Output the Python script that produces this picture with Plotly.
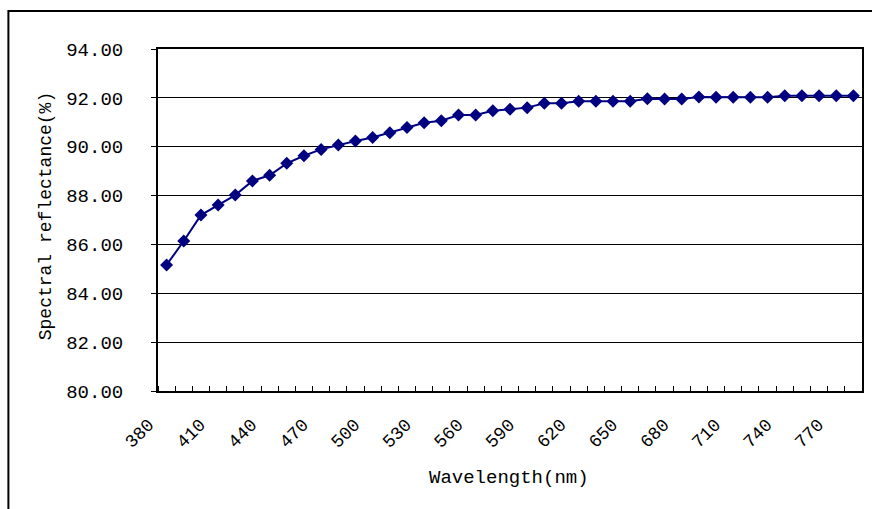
import plotly.graph_objects as go

# Spectral reflectance measured from 380 to 780 nm in 10 nm steps
wavelengths = list(range(380, 781, 10))
reflectance = [
    85.16, 86.14, 87.20, 87.61, 88.02, 88.60, 88.83, 89.32, 89.63, 89.89,
    90.07, 90.23, 90.38, 90.57, 90.79, 90.98, 91.06, 91.30, 91.30, 91.47,
    91.53, 91.60, 91.78, 91.78, 91.86, 91.86, 91.86, 91.86, 91.96, 91.95,
    91.95, 92.03, 92.02, 92.02, 92.02, 92.02, 92.09, 92.09, 92.09, 92.09,
    92.09,
]
# every third wavelength is labelled on the category axis
label_step = 3
y_ticks = [80, 82, 84, 86, 88, 90, 92, 94]

FONT = "Liberation Mono"
NAVY = "#000080"

idx = list(range(len(wavelengths)))
label_idx = idx[::label_step]
label_text = [str(wavelengths[i]) for i in label_idx]

fig = go.Figure()
fig.add_trace(go.Scatter(
    x=idx, y=reflectance, mode="lines+markers",
    line=dict(color=NAVY, width=2),
    marker=dict(symbol="diamond", size=10, color=NAVY),
    showlegend=False, hoverinfo="skip",
))

fig.update_layout(
    width=872, height=509,
    margin=dict(l=158, r=8, t=49, b=118),
    paper_bgcolor="white", plot_bgcolor="white",
    font=dict(family=FONT, color="black", size=18),
    xaxis=dict(
        range=[-0.5, len(wavelengths) - 0.5],
        tickmode="array", tickvals=label_idx, ticktext=label_text,
        tickangle=-45, ticks="", showgrid=False, zeroline=False,
        showline=True, linecolor="black", linewidth=2, mirror=True,
        tickfont=dict(family=FONT, size=18),
        ticklabelshift=-18, ticklabelstandoff=14,
        minor=dict(tickmode="linear", tick0=-0.5, dtick=1,
                   ticks="inside", ticklen=5, tickcolor="black",
                   tickwidth=1, showgrid=False),
    ),
    yaxis=dict(
        range=[80, 94], tickmode="array", tickvals=y_ticks,
        tickformat=".2f", ticks="outside", ticklen=5, tickcolor="black",
        showgrid=True, gridcolor="black", gridwidth=1, zeroline=False,
        showline=True, linecolor="black", linewidth=2, mirror=True,
        tickfont=dict(family=FONT, size=19), ticklabelstandoff=24,
    ),
    shapes=[dict(
        type="rect", xref="paper", yref="paper",
        x0=-0.2125, x1=1.03, y0=-0.4, y1=1.111,
        line=dict(color="black", width=2), fillcolor="rgba(0,0,0,0)",
        layer="below",
    )],
    annotations=[
        dict(text="Spectral reflectance(%)", xref="paper", yref="paper",
             x=-0.1586, y=0.512, xanchor="center", yanchor="middle",
             textangle=-90, showarrow=False,
             font=dict(family=FONT, size=18)),
        dict(text="Wavelength(nm)", xref="paper", yref="paper",
             x=0.498, y=-0.254, xanchor="center", yanchor="middle",
             showarrow=False, font=dict(family=FONT, size=19)),
    ],
)

fig.write_html("out.html")
